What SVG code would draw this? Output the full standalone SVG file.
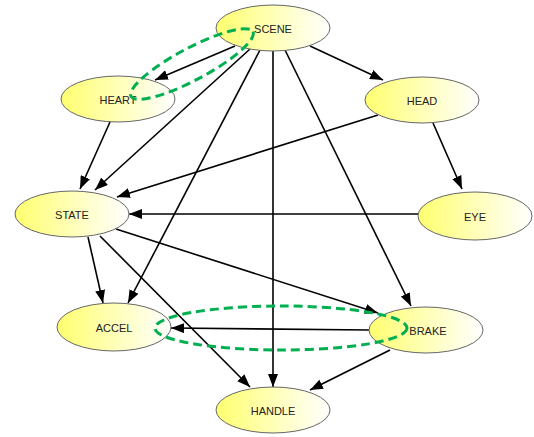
<svg xmlns="http://www.w3.org/2000/svg" width="534" height="437" viewBox="0 0 534 437">
<defs>
<linearGradient id="g" x1="0" y1="0" x2="1" y2="0">
<stop offset="0" stop-color="#ffff70"/>
<stop offset="1" stop-color="#ffffff"/>
</linearGradient>
<marker id="arr" markerUnits="userSpaceOnUse" markerWidth="13" markerHeight="10" refX="13" refY="5" orient="auto">
<path d="M0,0 L13,5 L0,10 z" fill="#000"/>
</marker>
</defs>
<style>
.node ellipse{fill:url(#g);stroke:#666;stroke-width:1}
.node text{font-family:"Liberation Sans",Arial,sans-serif;font-size:11px;fill:#222;text-anchor:middle;dominant-baseline:central}
#edges line{stroke:#000;stroke-width:1.6;marker-end:url(#arr)}
.hl{fill:none;stroke:#00b050;stroke-width:3;stroke-dasharray:9 5}
</style>
<rect width="534" height="437" fill="#fff"/>
<g id="edges">
<line x1="235" y1="46" x2="155" y2="80"/>
<line x1="310" y1="46" x2="383" y2="80"/>
<line x1="250" y1="49" x2="95" y2="190"/>
<line x1="260" y1="50" x2="128" y2="303"/>
<line x1="273" y1="51" x2="273" y2="387"/>
<line x1="285" y1="50" x2="411" y2="306"/>
<line x1="433" y1="123" x2="462" y2="189"/>
<line x1="378" y1="115" x2="117" y2="197"/>
<line x1="418" y1="214" x2="129" y2="214"/>
<line x1="110" y1="122" x2="80" y2="189"/>
<line x1="88" y1="237" x2="103" y2="303"/>
<line x1="116" y1="229" x2="378" y2="313"/>
<line x1="100" y1="236" x2="250" y2="387"/>
<line x1="369" y1="330" x2="171" y2="328"/>
<line x1="390" y1="350" x2="310" y2="390"/>
</g>
<g id="SCENE" class="node"><ellipse cx="273" cy="28" rx="57" ry="23"/><text x="273" y="29">SCENE</text></g>
<g id="HEART" class="node"><ellipse cx="118" cy="99" rx="57" ry="23"/><text x="118" y="100">HEART</text></g>
<g id="HEAD" class="node"><ellipse cx="422" cy="100" rx="57" ry="23"/><text x="422" y="101">HEAD</text></g>
<g id="EYE" class="node"><ellipse cx="475" cy="216" rx="57" ry="24"/><text x="475" y="217">EYE</text></g>
<g id="STATE" class="node"><ellipse cx="72" cy="214" rx="57" ry="23"/><text x="72" y="215">STATE</text></g>
<g id="ACCEL" class="node"><ellipse cx="114" cy="327" rx="57" ry="24"/><text x="114" y="328">ACCEL</text></g>
<g id="BRAKE" class="node"><ellipse cx="426" cy="330" rx="57" ry="23"/><text x="428" y="331">BRAKE</text></g>
<g id="HANDLE" class="node"><ellipse cx="273" cy="410" rx="57" ry="23"/><text x="273" y="411">HANDLE</text></g>
<g id="highlights">
<ellipse class="hl" cx="192" cy="64" rx="69" ry="16" transform="rotate(-28 192 64)"/>
<ellipse class="hl" cx="281" cy="328" rx="126" ry="22"/>
</g>
</svg>
